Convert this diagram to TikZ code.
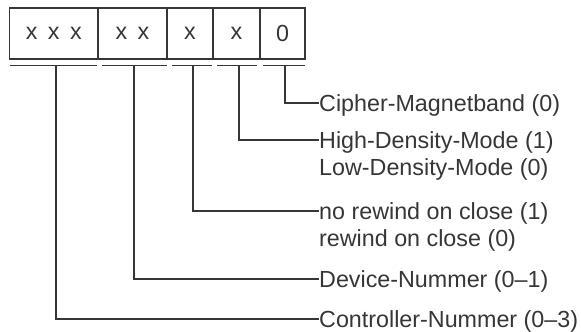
\documentclass[tikz,border=0pt]{standalone}
\usepackage{fontspec}
\setmainfont{Liberation Sans}
\definecolor{ink}{HTML}{363636}
\begin{document}
\begin{tikzpicture}[x=1pt,y=-1pt,
  font=\fontsize{23.3}{26}\selectfont,
  every node/.style={text=ink},
  field/.style={draw=ink,line width=1.6pt,minimum height=51pt,inner sep=0pt,anchor=center},
  label/.style={anchor=base west,inner sep=0pt},
  wire/.style={draw=ink,line width=1.6pt}]
\useasboundingbox (0,0) rectangle (581,332);
% fields
\node[field,minimum width=88.5pt] (b1) at (53.75,33.5) {x\hspace{0.45em}x\hspace{0.45em}x};
\node[field,minimum width=69pt] (b2) at (132.5,33.5) {x\hspace{0.45em}x};
\node[field,minimum width=46pt] (b3) at (190,33.5) {x};
\node[field,minimum width=47pt] (b4) at (236.5,33.5) {x};
\node[field,minimum width=45pt] (b5) at (282.5,33.5) {0};
% underlines
\draw[wire] (10,65.5) -- (97,65.5);
\draw[wire] (102,65.5) -- (167,65.5);
\draw[wire] (172,65.5) -- (212,65.5);
\draw[wire] (217,65.5) -- (257,65.5);
\draw[wire] (263,65.5) -- (305,65.5);
\coordinate (u1) at (56,65.5);
\coordinate (u2) at (134,65.5);
\coordinate (u3) at (193,65.5);
\coordinate (u4) at (239,65.5);
\coordinate (u5) at (285,65.5);
% labels (baseline 8.5pt below the connector)
\node[label] (l5) at (319,111.5) {Cipher-Magnetband (0)};
\node[label] (l4) at (319,148.5) {High-Density-Mode (1)};
\node[label] (l4b) at (319,175) {Low-Density-Mode (0)};
\node[label] (l3) at (319,219.5) {no rewind on close (1)};
\node[label] (l3b) at (319,246) {rewind on close (0)};
\node[label] (l2) at (319,287.5) {Device-Nummer (0--1)};
\node[label] (l1) at (319,327.5) {Controller-Nummer (0--3)};
% connectors
\draw[wire] (u5) |- ([yshift=8.5pt]l5.base west);
\draw[wire] (u4) |- ([yshift=8.5pt]l4.base west);
\draw[wire] (u3) |- ([yshift=8.5pt]l3.base west);
\draw[wire] (u2) |- ([yshift=8.5pt]l2.base west);
\draw[wire] (u1) |- ([yshift=8.5pt]l1.base west);
\end{tikzpicture}
\end{document}
